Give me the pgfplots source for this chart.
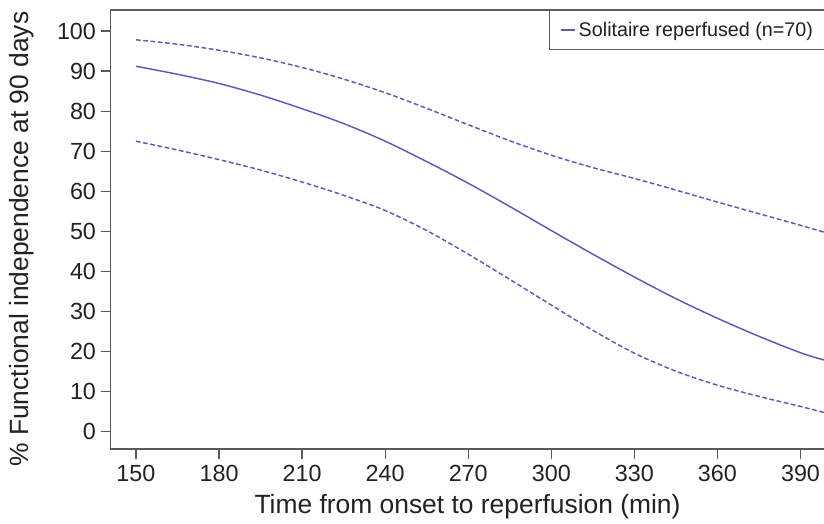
\documentclass[border=0pt]{standalone}
\usepackage{pgfplots}
\pgfplotsset{compat=1.18}
\usepackage{fontspec}
\setmainfont{Liberation Sans}
\definecolor{curve}{HTML}{5A5DB5}
\definecolor{axgray}{HTML}{5A5A5A}
\definecolor{txt}{HTML}{222222}

\begin{document}
\begin{tikzpicture}
\begin{axis}[
  at={(83pt,56.25pt)}, anchor=south west,
  scale only axis, width=542.3pt, height=329.25pt,
  xmin=140.87, xmax=402, ymin=-4.32, ymax=105.24,
  xtick={150,180,...,390}, ytick={0,10,...,100},
  axis line style={axgray, line width=0.9pt},
  tick style={axgray, line width=0.9pt},
  tick align=outside, major tick length=7.5pt,
  xtick pos=bottom, ytick pos=left,
  ticklabel style={font=\fontsize{17.5pt}{20pt}\selectfont, text=txt},
  /pgf/number format/assume math mode=true,
  xticklabel style={yshift=-1pt},
  xlabel={Time from onset to reperfusion (min)},
  ylabel={\% Functional independence at 90 days},
  label style={font=\fontsize{19.8pt}{22pt}\selectfont, text=txt},
  xlabel style={at={(axis description cs:0.4935,-0.1321)}, anchor=center},
  ylabel style={at={(axis description cs:-0.1227,0.478)}, anchor=center},
  legend style={at={(axis cs:299.1,105.24)}, anchor=north west,
    draw=axgray, line width=0.7pt, fill=white,
    font=\fontsize{14.8pt}{17pt}\selectfont, text=txt,
    inner xsep=8pt, inner ysep=6.5pt},
  legend image code/.code={\draw[#1] (0pt,0pt) -- (11pt,0pt);},
]
% fitted probability and its 95% band, every 15 min
\addplot[curve, line width=1.1pt, smooth] coordinates {
  (150,91.2) (165,89.2) (180,86.9) (195,84.0) (210,80.6) (225,76.9)
  (240,72.5) (255,67.4) (270,62.0) (285,56.2) (300,50.2) (315,44.3)
  (330,38.6) (345,33.2) (360,28.3) (375,23.8) (390,19.7) (398.4,17.9)};
\addlegendentry{Solitaire reperfused (n=70)}
\addplot[curve, line width=1.1pt, smooth, dash pattern=on 3.5pt off 2pt, forget plot] coordinates {
  (150,97.8) (165,96.7) (180,95.2) (195,93.3) (210,90.9) (225,88.0)
  (240,84.6) (255,80.7) (270,76.6) (285,72.6) (300,69.0) (315,65.9)
  (330,63.2) (345,60.3) (360,57.3) (375,54.4) (390,51.5) (398.4,49.8)};
\addplot[curve, line width=1.1pt, smooth, dash pattern=on 3.5pt off 2pt, forget plot] coordinates {
  (150,72.5) (165,70.3) (180,67.9) (195,65.3) (210,62.3) (225,59.0)
  (240,55.2) (255,50.2) (270,44.3) (285,38.0) (300,31.6) (315,25.3)
  (330,19.6) (345,15.1) (360,11.6) (375,8.8) (390,6.3) (398.4,4.8)};
\draw[axgray, line width=0.9pt] (rel axis cs:0,1) -- (rel axis cs:1,1);
\end{axis}
\pgfresetboundingbox
\useasboundingbox (0,0) rectangle (618pt,393pt);
\end{tikzpicture}
\end{document}
